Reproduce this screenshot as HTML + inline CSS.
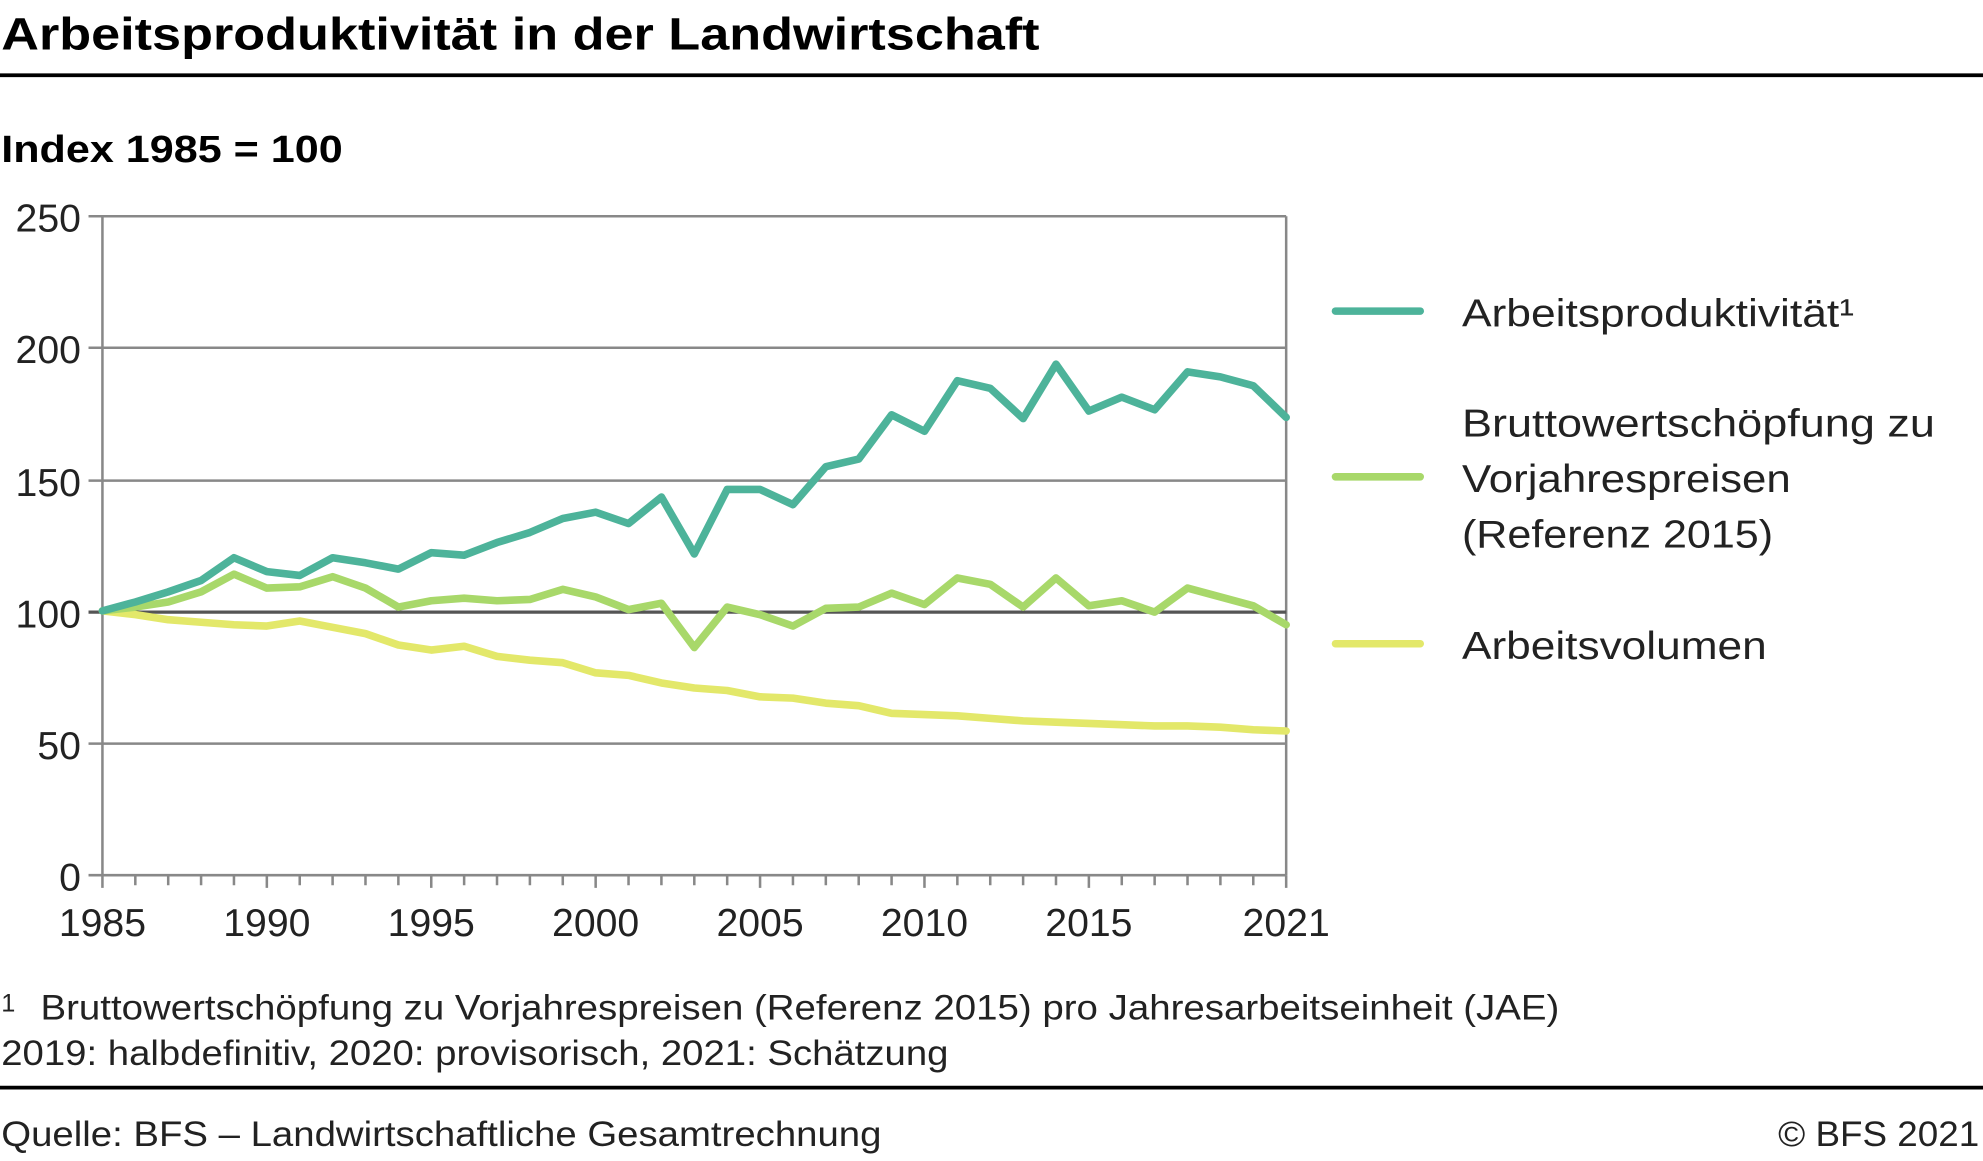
<!DOCTYPE html>
<html><head><meta charset="utf-8"><style>
html,body{margin:0;padding:0;background:#fff;}
svg{display:block;font-family:"Liberation Sans",sans-serif;}
</style></head><body>
<svg width="1983" height="1161" viewBox="0 0 1568 918" preserveAspectRatio="none">
<text x="1" y="39" font-size="36" font-weight="bold" textLength="821" lengthAdjust="spacingAndGlyphs">Arbeitsproduktivität in der Landwirtschaft</text>
<line x1="0" y1="59.5" x2="1568" y2="59.5" stroke="#000" stroke-width="3"/>
<text x="1" y="128" font-size="30" font-weight="bold" textLength="270" lengthAdjust="spacingAndGlyphs">Index 1985 = 100</text>
<g stroke="#888" stroke-width="2">
<line x1="70" y1="171" x2="1017" y2="171"/>
<line x1="70" y1="275" x2="1017" y2="275"/>
<line x1="70" y1="380" x2="1017" y2="380"/>
<line x1="70" y1="588" x2="1017" y2="588"/>
<line x1="81" y1="171" x2="81" y2="692"/>
<line x1="1017" y1="171" x2="1017" y2="692"/>
<line x1="70" y1="692" x2="1017" y2="692"/>
</g>
<line x1="70" y1="484" x2="1017" y2="484" stroke="#555" stroke-width="2.5"/>
<g stroke="#888" stroke-width="2">
<path d="M81 692v10M107 692v8M133 692v8M159 692v8M185 692v8M211 692v10M237 692v8M263 692v8M289 692v8M315 692v8M341 692v10M367 692v8M393 692v8M419 692v8M445 692v8M471 692v10M497 692v8M523 692v8M549 692v8M575 692v8M601 692v10M627 692v8M653 692v8M679 692v8M705 692v8M731 692v10M757 692v8M783 692v8M809 692v8M835 692v8M861 692v10M887 692v8M913 692v8M939 692v8M965 692v8M991 692v8M1017 692v10"/>
</g>
<g font-size="31" fill="#222" text-anchor="end">
<text x="64" y="183">250</text><text x="64" y="287">200</text><text x="64" y="392">150</text>
<text x="64" y="496">100</text><text x="64" y="600">50</text><text x="64" y="704">0</text>
</g>
<g font-size="31" fill="#222" text-anchor="middle">
<text x="81" y="740">1985</text><text x="211" y="740">1990</text><text x="341" y="740">1995</text>
<text x="471" y="740">2000</text><text x="601" y="740">2005</text><text x="731" y="740">2010</text>
<text x="861" y="740">2015</text><text x="1017" y="740">2021</text>
</g>
<g fill="none" stroke-width="6" stroke-linejoin="round" stroke-linecap="round">
<polyline stroke="#e3e86a" points="81,483 107,486 133,490 159,492 185,494 211,495 237,491 263,496 289,501 315,510 341,514 367,511 393,519 419,522 445,524 471,532 497,534 523,540 549,544 575,546 601,551 627,552 653,556 679,558 705,564 731,565 757,566 783,568 809,570 835,571 861,572 887,573 913,574 939,574 965,575 991,577 1017,578"/>
<polyline stroke="#a8d86a" points="81,483 107,480 133,476 159,468 185,454 211,465 237,464 263,456 289,465 315,480 341,475 367,473 393,475 419,474 445,466 471,472 497,482 523,477 549,512 575,480 601,486 627,495 653,481 679,480 705,469 731,478 757,457 783,462 809,480 835,457 861,479 887,475 913,484 939,465 965,472 991,479 1017,494"/>
<polyline stroke="#4db39a" points="81,483 107,476 133,468 159,459 185,441 211,452 237,455 263,441 289,445 315,450 341,437 367,439 393,429 419,421 445,410 471,405 497,414 523,393 549,438 575,387 601,387 627,399 653,369 679,363 705,328 731,341 757,301 783,307 809,331 835,288 861,325 887,314 913,324 939,294 965,298 991,305 1017,330"/>
</g>
<g stroke-width="6" stroke-linecap="round">
<line x1="1056" y1="246" x2="1123" y2="246" stroke="#4db39a"/>
<line x1="1056" y1="377" x2="1123" y2="377" stroke="#a8d86a"/>
<line x1="1056" y1="509" x2="1123" y2="509" stroke="#e3e86a"/>
</g>
<g font-size="31" fill="#222">
<text x="1156" y="258" textLength="310" lengthAdjust="spacingAndGlyphs">Arbeitsproduktivität¹</text>
<text x="1156" y="345" textLength="374" lengthAdjust="spacingAndGlyphs">Bruttowertschöpfung zu</text>
<text x="1156" y="389" textLength="260" lengthAdjust="spacingAndGlyphs">Vorjahrespreisen</text>
<text x="1156" y="433" textLength="246" lengthAdjust="spacingAndGlyphs">(Referenz 2015)</text>
<text x="1156" y="521" textLength="241" lengthAdjust="spacingAndGlyphs">Arbeitsvolumen</text>
</g>
<g font-size="28" fill="#222">
<text x="1" y="800" font-size="20">1</text>
<text x="32" y="806" textLength="1201" lengthAdjust="spacingAndGlyphs">Bruttowertschöpfung zu Vorjahrespreisen (Referenz 2015) pro Jahresarbeitseinheit (JAE)</text>
<text x="1" y="842" textLength="749" lengthAdjust="spacingAndGlyphs">2019: halbdefinitiv, 2020: provisorisch, 2021: Schätzung</text>
<text x="1" y="906" textLength="696" lengthAdjust="spacingAndGlyphs">Quelle: BFS – Landwirtschaftliche Gesamtrechnung</text>
<text x="1565" y="906" text-anchor="end" textLength="159" lengthAdjust="spacingAndGlyphs">© BFS 2021</text>
</g>
<line x1="0" y1="860" x2="1568" y2="860" stroke="#000" stroke-width="3"/>
</svg>
</body></html>
